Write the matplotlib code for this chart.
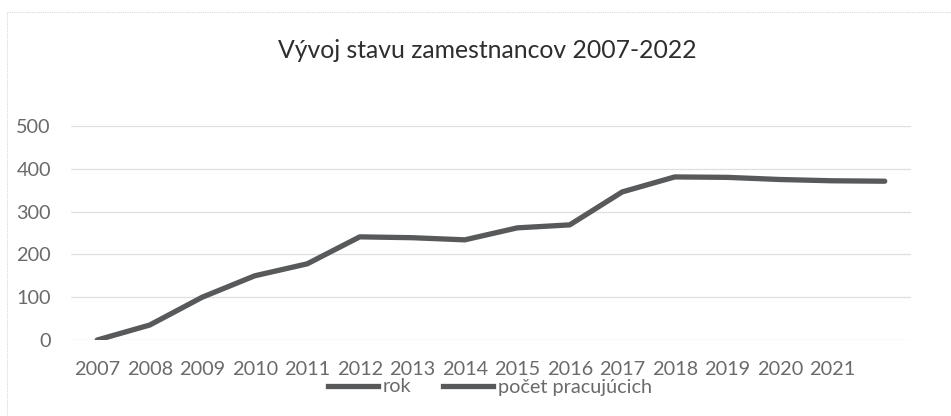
import matplotlib
matplotlib.use("Agg")
import matplotlib.pyplot as plt
from matplotlib.lines import Line2D

title = "Vývoj stavu zamestnancov 2007-2022"
years = ["2007", "2008", "2009", "2010", "2011", "2012", "2013", "2014",
         "2015", "2016", "2017", "2018", "2019", "2020", "2021", ""]
workers = [0, 35, 100, 150, 178, 241, 239, 234, 262, 269, 346, 381, 380, 375, 372, 371]
legend_labels = ["rok", "počet pracujúcich"]
yticks = [0, 100, 200, 300, 400, 500]

plt.rcParams['font.family'] = ['Lato', 'DejaVu Sans']

W, H = 951, 416
fig = plt.figure(figsize=(W / 100, H / 100), dpi=100)
left, right, bottom, top = 71, 911, 340, 126
ax = fig.add_axes([left / W, 1 - bottom / H, (right - left) / W, (bottom - top) / H])

x = list(range(len(years)))
line_color = "#58595b"
ax.plot(x, workers, color=line_color, lw=3.8, solid_capstyle="round", solid_joinstyle="round")

ax.set_xlim(-0.5, len(years) - 0.5)
ax.set_ylim(0, 500)
ax.set_yticks(yticks)
ax.set_yticklabels([str(v) for v in yticks])
ax.set_xticks(x)
ax.set_xticklabels(years)
ax.grid(axis="y", color="#cccccc", lw=0.9, linestyle=(0, (1, 0.6)))
ax.set_axisbelow(True)
for s in ax.spines.values():
    s.set_visible(False)
ax.tick_params(axis="both", length=0, colors="#6a6a6a", labelsize=14.3)
ax.tick_params(axis="y", pad=14.5)
ax.tick_params(axis="x", pad=15)

fig.text(487 / W, 1 - 50 / H, title, ha="center", va="center", fontsize=17.8, color="#2e2e2e")

handles = [Line2D([0], [0], color=line_color, lw=3.8) for _ in legend_labels]
fig.legend(handles, legend_labels, loc="center", bbox_to_anchor=(490 / W, 1 - 387 / H),
           ncol=2, frameon=False, fontsize=14.3, handlelength=2.5, handletextpad=0.25,
           columnspacing=1.6, labelcolor="#6a6a6a", borderpad=0)

# faint chart border (top and left)
fig.add_artist(Line2D([7 / W, 1], [1 - 12 / H, 1 - 12 / H], color="#d9d9d9", lw=0.8,
                      linestyle=(0, (1, 1)), transform=fig.transFigure))
fig.add_artist(Line2D([7 / W, 7 / W], [0, 1 - 12 / H], color="#d9d9d9", lw=0.8,
                      linestyle=(0, (1, 1)), transform=fig.transFigure))

fig.savefig("out.png", dpi=100)
